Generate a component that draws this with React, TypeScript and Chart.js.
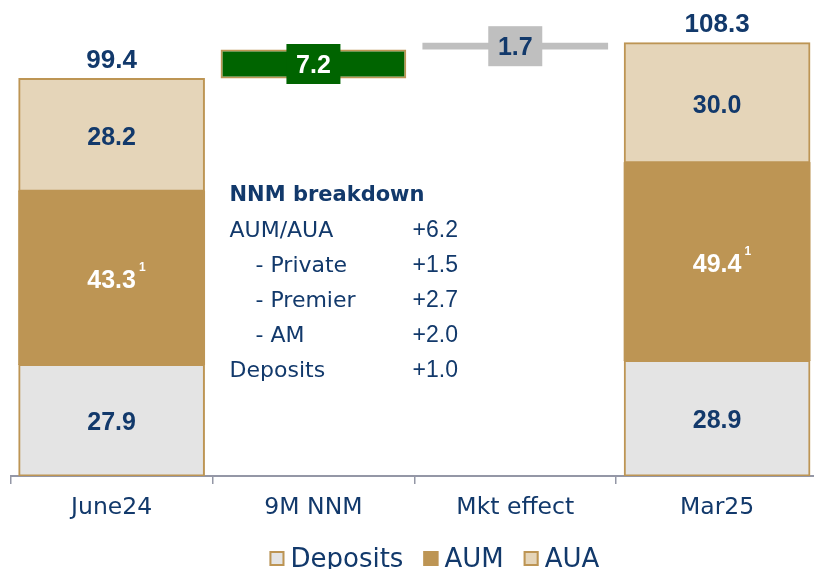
import React, { useEffect, useRef } from 'react';
import { Chart, registerables } from 'chart.js';

Chart.register(...registerables);

// ---------- data ----------
const categories = ['June24', '9M NNM', 'Mkt effect', 'Mar25'];
const deposits = [27.9, null, null, 28.9];
const aum = [43.3, null, null, 49.4];
const aua = [28.2, null, null, 30.0];
const nnmChange = [null, 7.2, null, null];
const mktChange = [null, null, 1.7, null];
const aumFootnote = '1';
const legendLabels = ['Deposits', 'AUM', 'AUA'];
const breakdownTitle = 'NNM breakdown';
const breakdownLabels = ['AUM/AUA', '- Private', '- Premier', '- AM', 'Deposits'];
const breakdownIndent = [false, true, true, true, false];
const breakdownValues = ['+6.2', '+1.5', '+2.7', '+2.0', '+1.0'];

// ---------- styles ----------
const NAVY = '#12396B';
const GOLD = '#BD9554';
const TAN = '#E5D5B9';
const LIGHT = '#E4E4E4';
const GREEN = '#006400';
const GREY = '#BFBFBF';
const AXIS = '#9497A6';
const WORD_FONT = '"DejaVu Sans"';
const NUM_FONT = '"Liberation Sans"';

const r1 = (v: number) => Math.round(v * 10) / 10;

function buildFloating() {
  const start = r1((deposits[0] as number) + (aum[0] as number) + (aua[0] as number));
  const nnm = nnmChange.map((v) => (v == null ? null : [start, r1(start + v)]));
  const afterNnm = r1(start + (nnmChange[1] as number));
  const mkt = mktChange.map((v) => (v == null ? null : [afterNnm, r1(afterNnm + v)]));
  return { nnm, mkt };
}

const labelPlugin = {
  id: 'labelsPlugin',
  afterDatasetsDraw(chart: any) {
    const ctx = chart.ctx;
    const area = chart.chartArea;
    ctx.save();
    // segment labels
    const segColors = [NAVY, '#FFFFFF', NAVY];
    const numSize = 25;
    for (let d = 0; d < 3; d++) {
      const meta = chart.getDatasetMeta(d);
      meta.data.forEach((el: any, i: number) => {
        const v = chart.data.datasets[d].data[i];
        if (v == null) return;
        const cy = (el.y + el.base) / 2;
        ctx.font = `bold ${numSize}px ${NUM_FONT}`;
        ctx.fillStyle = segColors[d];
        ctx.textAlign = 'center';
        ctx.textBaseline = 'alphabetic';
        const txt = (v as number).toFixed(1);
        ctx.fillText(txt, el.x, cy + numSize * 0.716 / 2 + 1);
        if (d === 1) {
          const w = ctx.measureText(txt).width;
          ctx.font = `bold 12px ${NUM_FONT}`;
          ctx.textAlign = 'left';
          ctx.fillText(aumFootnote, el.x + w / 2 + 3, cy - 7);
        }
      });
    }
    // totals on top
    const topMeta = chart.getDatasetMeta(2);
    topMeta.data.forEach((el: any, i: number) => {
      if (aua[i] == null) return;
      const total = (deposits[i] as number) + (aum[i] as number) + (aua[i] as number);
      ctx.font = `bold 26px ${NUM_FONT}`;
      ctx.fillStyle = NAVY;
      ctx.textAlign = 'center';
      ctx.textBaseline = 'alphabetic';
      ctx.fillText(total.toFixed(1), el.x, el.y - 20 + 26 * 0.716 / 2);
    });
    // floating bar label boxes
    const floatInfo = [
      { ds: 3, vals: nnmChange, fill: GREEN, color: '#FFFFFF' },
      { ds: 4, vals: mktChange, fill: GREY, color: NAVY },
    ];
    floatInfo.forEach((f) => {
      const meta = chart.getDatasetMeta(f.ds);
      meta.data.forEach((el: any, i: number) => {
        const v = f.vals[i];
        if (v == null) return;
        const cy = (el.y + el.base) / 2;
        const bw = 54;
        const bh = 40;
        ctx.fillStyle = f.fill;
        ctx.fillRect(el.x - bw / 2, cy - bh / 2, bw, bh);
        ctx.font = `bold 25px ${NUM_FONT}`;
        ctx.fillStyle = f.color;
        ctx.textAlign = 'center';
        ctx.textBaseline = 'alphabetic';
        ctx.fillText((v as number).toFixed(1), el.x, cy + 25 * 0.716 / 2);
      });
    });
    // NNM breakdown text
    const xs = chart.scales.x;
    const catW = (area.right - area.left) / categories.length;
    const left = xs.getPixelForValue(1) - catW / 2 + 17;
    const valX = left + 183;
    ctx.textAlign = 'left';
    ctx.textBaseline = 'alphabetic';
    ctx.fillStyle = NAVY;
    ctx.font = `bold 21px ${WORD_FONT}`;
    const titleY = area.top + 177;
    ctx.fillText(breakdownTitle, left, titleY + 21 * 0.729 / 2);
    breakdownLabels.forEach((lab, i) => {
      const cy = titleY + 36 + i * 35;
      ctx.font = `22px ${WORD_FONT}`;
      ctx.fillText(lab, left + (breakdownIndent[i] ? 26 : 0), cy + 22 * 0.729 / 2);
      ctx.font = `23px ${NUM_FONT}`;
      ctx.fillText(breakdownValues[i], valX, cy + 23 * 0.716 / 2);
    });
    ctx.restore();
  },
  afterDraw(chart: any) {
    // custom legend
    const ctx = chart.ctx;
    const area = chart.chartArea;
    ctx.save();
    const fs = 26;
    ctx.font = `${fs}px ${WORD_FONT}`;
    const box = 15;
    const gap = 6;
    const itemGap = 20;
    const fills = [LIGHT, GOLD, TAN];
    const widths = legendLabels.map((l) => ctx.measureText(l).width);
    const total = widths.reduce((a, b) => a + b, 0) + legendLabels.length * (box + gap) + itemGap * (legendLabels.length - 1);
    let x = (area.left + area.right) / 2 + 20 - total / 2;
    const baseY = chart.height - 2;
    legendLabels.forEach((l, i) => {
      ctx.fillStyle = fills[i];
      ctx.fillRect(x, baseY - 16, box, box);
      ctx.strokeStyle = GOLD;
      ctx.lineWidth = 2;
      ctx.strokeRect(x + 1, baseY - 15, box - 2, box - 2);
      x += box + gap;
      ctx.fillStyle = NAVY;
      ctx.textAlign = 'left';
      ctx.textBaseline = 'alphabetic';
      ctx.fillText(l, x, baseY);
      x += widths[i] + itemGap;
    });
    ctx.restore();
  },
};

export default function App() {
  const canvasRef = useRef<HTMLCanvasElement | null>(null);

  useEffect(() => {
    document.body.style.overflow = 'hidden';
    const { nnm, mkt } = buildFloating();
    const chart = new Chart(canvasRef.current as HTMLCanvasElement, {
      type: 'bar',
      data: {
        labels: categories,
        datasets: [
          { label: 'Deposits', data: deposits as any, backgroundColor: LIGHT, borderColor: GOLD, borderWidth: 2, borderSkipped: false, inflateAmount: 0.5 },
          { label: 'AUM', data: aum as any, backgroundColor: GOLD, borderColor: GOLD, borderWidth: 0, inflateAmount: 0.6 },
          { label: 'AUA', data: aua as any, backgroundColor: TAN, borderColor: GOLD, borderWidth: 2, borderSkipped: false, inflateAmount: 0.5 },
          { label: 'NNM', data: nnm as any, backgroundColor: GREEN, borderColor: GOLD, borderWidth: 2, borderSkipped: false },
          { label: 'Mkt', data: mkt as any, backgroundColor: GREY, borderWidth: 0 },
        ],
      },
      options: {
        animation: false,
        responsive: true,
        maintainAspectRatio: false,
        layout: { padding: { left: 10.7, right: 2, top: 16, bottom: 43 } },
        datasets: { bar: { barPercentage: 0.92, categoryPercentage: 1 } },
        plugins: { legend: { display: false }, tooltip: { enabled: false } },
        scales: {
          x: {
            stacked: true,
            grid: { display: true, drawOnChartArea: false, drawTicks: true, tickLength: 8, color: AXIS, lineWidth: 1.5, offset: true },
            border: { display: true, color: AXIS, width: 2 },
            ticks: { color: NAVY, font: { family: 'DejaVu Sans', size: 23.5 }, padding: 10 },
            afterFit: (s: any) => { s.height = 50; },
          },
          y: { stacked: true, display: false, min: 0, max: 115 },
        },
      },
      plugins: [labelPlugin],
    });
    return () => chart.destroy();
  }, []);

  return (
    <div style={{ position: 'fixed', left: 0, top: 0, width: 820, height: 569, background: '#fff' }}>
      <canvas ref={canvasRef} />
    </div>
  );
}
